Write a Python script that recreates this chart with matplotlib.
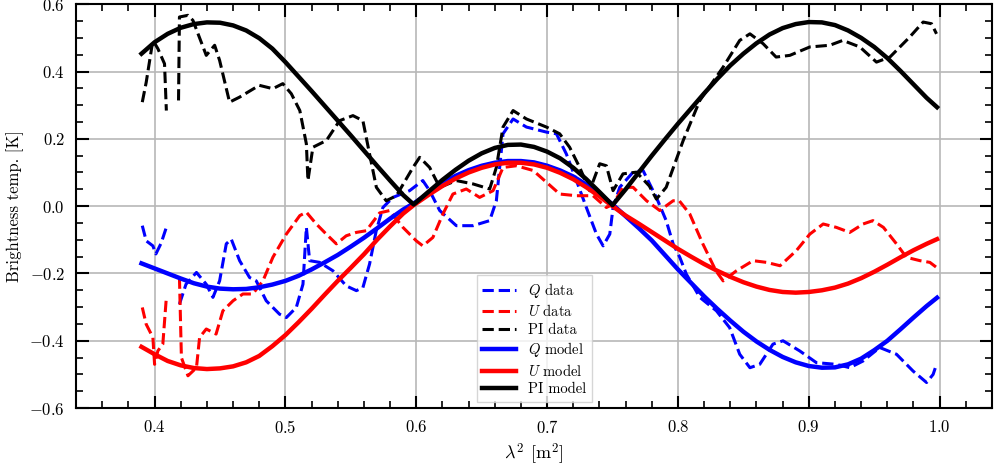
import numpy as np
import matplotlib
matplotlib.use('Agg')
from matplotlib import pyplot as plt
from matplotlib.ticker import MultipleLocator

plt.rcParams['font.family'] = 'serif'
plt.rcParams['font.serif'] = ['cmr10']
plt.rcParams['mathtext.fontset'] = 'cm'
plt.rcParams['axes.formatter.use_mathtext'] = True

nan = np.nan

# model curves
lam_model = [0.39, 0.40, 0.41, 0.42, 0.43, 0.44, 0.45, 0.46, 0.47, 0.48, 0.49,
             0.50, 0.51, 0.52, 0.53, 0.54, 0.55, 0.56, 0.57, 0.58, 0.59, 0.598,
             0.61, 0.62, 0.63, 0.64, 0.65, 0.66, 0.67, 0.68, 0.69, 0.70,
             0.71, 0.72, 0.73, 0.74, 0.75, 0.76, 0.77, 0.78, 0.79, 0.80,
             0.81, 0.82, 0.83, 0.84, 0.85, 0.86, 0.87, 0.88, 0.89, 0.90,
             0.91, 0.92, 0.93, 0.94, 0.95, 0.96, 0.97, 0.98, 0.99, 0.998]
q_model = [-0.170, -0.185, -0.200, -0.215, -0.229, -0.239, -0.245, -0.247, -0.246, -0.241, -0.233,
           -0.222, -0.207, -0.188, -0.167, -0.145, -0.120, -0.094, -0.066, -0.037, -0.010, 0.008,
           0.040, 0.068, 0.090, 0.107, 0.120, 0.129, 0.134, 0.134, 0.130, 0.120,
           0.106, 0.088, 0.064, 0.036, 0.005, -0.030, -0.065, -0.102, -0.145, -0.188,
           -0.228, -0.268, -0.305, -0.340, -0.373, -0.402, -0.427, -0.448, -0.464, -0.475,
           -0.480, -0.479, -0.470, -0.453, -0.428, -0.400, -0.366, -0.331, -0.297, -0.272]
u_model = [-0.418, -0.440, -0.460, -0.473, -0.481, -0.484, -0.482, -0.476, -0.464, -0.445, -0.416,
           -0.383, -0.345, -0.305, -0.263, -0.222, -0.183, -0.143, -0.100, -0.060, -0.022, 0.003,
           0.035, 0.060, 0.082, 0.100, 0.114, 0.124, 0.129, 0.129, 0.124, 0.114,
           0.099, 0.080, 0.056, 0.029, 0.000, -0.028, -0.052, -0.077, -0.102, -0.127,
           -0.150, -0.172, -0.192, -0.210, -0.226, -0.239, -0.249, -0.255, -0.257, -0.255,
           -0.250, -0.242, -0.230, -0.214, -0.195, -0.174, -0.152, -0.131, -0.112, -0.098]
pi_model = [0.453, 0.487, 0.512, 0.530, 0.541, 0.546, 0.545, 0.537, 0.522, 0.499, 0.468,
            0.428, 0.385, 0.342, 0.298, 0.254, 0.210, 0.165, 0.120, 0.076, 0.033, 0.005,
            0.045, 0.078, 0.108, 0.135, 0.157, 0.173, 0.182, 0.183, 0.176, 0.162,
            0.142, 0.114, 0.080, 0.042, 0.003, 0.050, 0.100, 0.150, 0.198, 0.245,
            0.290, 0.335, 0.378, 0.418, 0.453, 0.484, 0.510, 0.529, 0.541, 0.547,
            0.546, 0.538, 0.522, 0.500, 0.473, 0.440, 0.402, 0.362, 0.322, 0.294]

# data curves
lam_q = [0.3906, 0.3936, 0.3987, 0.401, 0.405, 0.409, nan, 0.419, 0.424, 0.432, 0.4395,
         0.4446, 0.4497, 0.4548, 0.4586, 0.465, 0.4726, 0.4777, 0.4853, 0.4955, 0.5007,
         0.5083, 0.5134, 0.516, 0.5185, 0.5261, 0.5363, 0.5465, 0.5542, 0.5592, 0.5643,
         0.5694, 0.5745, 0.5822, 0.5949, 0.605, 0.6102, 0.6179, 0.6306, 0.6434, 0.6561,
         0.6612, 0.6663, 0.674, 0.6842, 0.6995, 0.7071, 0.7147, 0.7224, 0.73, 0.7377,
         0.7428, 0.7479, 0.7504, 0.7555, 0.7657, 0.7733, 0.7835, 0.791, 0.7963, 0.8014,
         0.8064, 0.8167, 0.8294, 0.8395, 0.8472, 0.855, 0.8625, 0.8726, 0.8803, 0.893,
         0.9058, 0.921, 0.9313, 0.9415, 0.9542, 0.967, 0.9797, 0.99, 0.995, 0.9976]
q_data = [-0.058, -0.103, -0.118, -0.142, -0.110, -0.063, nan, -0.291, -0.232, -0.197, -0.232,
          -0.271, -0.222, -0.112, -0.098, -0.162, -0.212, -0.222, -0.281, -0.321, -0.331,
          -0.301, -0.232, -0.063, -0.162, -0.167, -0.192, -0.237, -0.251, -0.242, -0.172,
          -0.073, -0.004, 0.026, 0.046, 0.076, 0.046, -0.013, -0.058, -0.058, -0.043,
          0.016, 0.215, 0.259, 0.235, 0.220, 0.215, 0.155, 0.076, -0.004, -0.083,
          -0.118, -0.083, -0.004, 0.056, 0.101, 0.106, 0.026, -0.043, -0.112, -0.152,
          -0.202, -0.271, -0.311, -0.361, -0.440, -0.480, -0.470, -0.410, -0.400, -0.430,
          -0.465, -0.470, -0.480, -0.460, -0.420, -0.440, -0.490, -0.524, -0.500, -0.470]

lam_u = [0.3906, 0.3936, 0.3987, 0.400, 0.4025, 0.4063, 0.409, nan, 0.419, 0.4205, 0.4255,
         0.432, 0.4344, 0.4395, 0.447, 0.4522, 0.46, 0.4675, 0.475, 0.4828, 0.4904,
         0.5007, 0.511, 0.516, 0.5236, 0.5312, 0.5389, 0.5465, 0.5542, 0.5618, 0.572,
         0.5797, 0.5898, 0.600, 0.605, 0.6127, 0.6204, 0.628, 0.6382, 0.6484, 0.6587,
         0.6663, 0.6765, 0.6893, 0.6995, 0.7096, 0.7224, 0.7351, 0.7453, 0.7504, 0.758,
         0.7657, 0.776, 0.7861, 0.7963, 0.801, 0.809, 0.819, 0.829, 0.8345, 0.8447,
         0.8574, 0.8676, 0.878, 0.8905, 0.9008, 0.911, 0.921, 0.9313, 0.9415, 0.949,
         0.957, 0.967, 0.9746, 0.985, 0.9925, 0.9976]
u_data = [-0.301, -0.351, -0.390, -0.470, -0.430, -0.410, -0.271, nan, -0.212, -0.450, -0.504,
          -0.480, -0.390, -0.365, -0.380, -0.311, -0.281, -0.261, -0.261, -0.222, -0.152,
          -0.083, -0.028, -0.018, -0.053, -0.083, -0.112, -0.088, -0.078, -0.073, -0.020,
          -0.013, -0.063, -0.103, -0.118, -0.093, -0.023, 0.036, 0.051, 0.026, 0.046,
          0.115, 0.120, 0.106, 0.071, 0.036, 0.031, 0.031, -0.004, 0.006, 0.056,
          0.056, 0.016, -0.013, 0.016, 0.016, -0.023, -0.112, -0.192, -0.222, -0.192,
          -0.162, -0.167, -0.177, -0.132, -0.083, -0.053, -0.063, -0.078, -0.053, -0.043,
          -0.063, -0.112, -0.152, -0.162, -0.167, -0.182]

lam_pi = [0.3906, 0.3936, 0.3987, 0.4025, 0.4076, 0.409, nan, 0.4183, 0.419, 0.4255, 0.4293,
          0.4395, 0.4459, 0.4497, 0.4573, 0.465, 0.480, 0.4904, 0.498, 0.5045, 0.511,
          0.516, 0.5172, 0.521, 0.5313, 0.5414, 0.5516, 0.5592, 0.5643, 0.5695, 0.577,
          0.5848, 0.5975, 0.6026, 0.6102, 0.6179, 0.6306, 0.6434, 0.6561, 0.6612, 0.6663,
          0.674, 0.6842, 0.6995, 0.7096, 0.7172, 0.7249, 0.7325, 0.7402, 0.7453, 0.7504,
          0.758, 0.7682, 0.7781, 0.7835, 0.791, 0.804, 0.8167, 0.8345, 0.8472, 0.855,
          0.865, 0.875, 0.8855, 0.9008, 0.916, 0.926, 0.939, 0.9517, 0.962, 0.977,
          0.9874, 0.9938, 0.9976]
pi_data = [0.309, 0.368, 0.493, 0.468, 0.423, 0.284, nan, 0.314, 0.562, 0.567, 0.552,
           0.448, 0.478, 0.433, 0.309, 0.324, 0.359, 0.349, 0.364, 0.334, 0.284,
           0.185, 0.076, 0.175, 0.195, 0.254, 0.269, 0.254, 0.155, 0.056, 0.016,
           0.031, 0.115, 0.145, 0.115, 0.056, 0.076, 0.066, 0.051, 0.115, 0.235,
           0.284, 0.259, 0.235, 0.215, 0.175, 0.115, 0.046, 0.126, 0.120, 0.046,
           0.096, 0.101, 0.060, 0.021, 0.056, 0.195, 0.314, 0.413, 0.4925, 0.512,
           0.483, 0.443, 0.448, 0.473, 0.478, 0.4925, 0.473, 0.428, 0.443, 0.502,
           0.547, 0.542, 0.512]

fig = plt.figure(figsize=(10.01, 4.68), dpi=100)
ax = fig.add_axes([0.076, 0.128, 0.915, 0.863])

ax.plot(lam_q, q_data, '--', color='blue', lw=2.2, label=r'$Q$ data')
ax.plot(lam_u, u_data, '--', color='red', lw=2.2, label=r'$U$ data')
ax.plot(lam_pi, pi_data, '--', color='black', lw=2.2, label='PI data')
ax.plot(lam_model, q_model, '-', color='blue', lw=3.2, label=r'$Q$ model')
ax.plot(lam_model, u_model, '-', color='red', lw=3.2, label=r'$U$ model')
ax.plot(lam_model, pi_model, '-', color='black', lw=3.2, label='PI model')

ax.set_xlim(0.34, 1.04)
ax.set_ylim(-0.6, 0.6)
ax.set_xticks([0.4, 0.5, 0.6, 0.7, 0.8, 0.9, 1.0])
ax.set_yticks([-0.6, -0.4, -0.2, 0.0, 0.2, 0.4, 0.6])
ax.xaxis.set_minor_locator(MultipleLocator(0.02))
ax.yaxis.set_minor_locator(MultipleLocator(0.05))
ax.tick_params(which='both', direction='in', top=True, right=True, labelsize=12)
ax.tick_params(which='major', length=9, width=1.5, pad=8)
ax.tick_params(which='minor', length=5, width=1.2)
for s in ax.spines.values():
    s.set_linewidth(1.5)
ax.grid(True, which='major', color='0.72', lw=1.2)
ax.set_axisbelow(True)

ax.set_xlabel(r'$\lambda^2$ [m$^2$]', fontsize=13)
ax.set_ylabel('Brightness temp. [K]', fontsize=12)

ax.legend(loc='lower center', fontsize=10.5, fancybox=False, edgecolor='0.8',
          handlelength=2.3, labelspacing=0.25, borderaxespad=0.4)

plt.savefig('out.png', dpi=100)
